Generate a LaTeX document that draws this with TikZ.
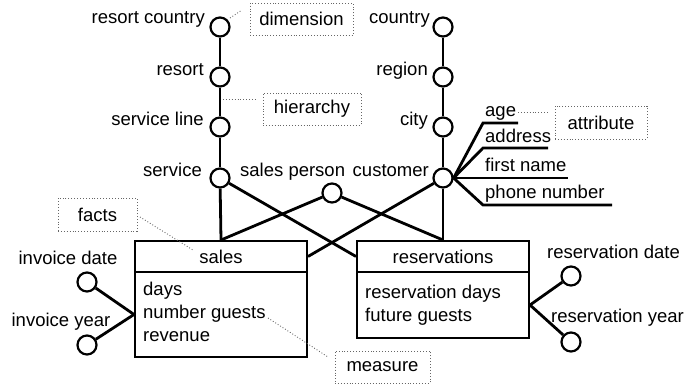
\documentclass[tikz,border=0pt]{standalone}
\usepackage{fontspec}
\setmainfont{Liberation Sans}
\begin{document}
\begin{tikzpicture}[x=1pt,y=-1pt,
  font=\fontsize{18.5}{22}\selectfont,
  dot/.style={circle, draw, line width=2.2pt, minimum size=19pt, inner sep=0pt, fill=white},
  conn/.style={line width=2.8pt},
  lblr/.style={anchor=base east, inner sep=0pt},
  lbll/.style={anchor=base west, inner sep=0pt},
  lblc/.style={anchor=base, inner sep=0pt},
  tbox/.style={draw, line width=2pt, inner sep=0pt, minimum width=172pt},
  note/.style={draw=black!60, dotted, line width=0.9pt, inner sep=0pt},
  lead/.style={draw=black!60, dotted, line width=0.9pt}]
\useasboundingbox (0,0) rectangle (699,387);

% fact tables
\node[tbox, minimum height=31pt] (salesh) at (221,256.5) {sales};
\node[tbox, minimum height=85pt] (salesb) at (221,314.5) {};
\node[tbox, minimum height=31pt] (resh) at (443,256.5) {reservations};
\node[tbox, minimum height=66pt] (resb) at (443,305) {};

\node[lbll] (days) at (143,296) {days};
\node[lbll] (nguests) at (143,319) {number guests};
\node[lbll] (revenue) at (143,342) {revenue};
\node[lbll] (rdays) at (365,299) {reservation days};
\node[lbll] (fguests) at (365,322) {future guests};

% dimension levels
\node[dot] (rc) at (220,27) {};
\node[dot] (rs) at (220,77) {};
\node[dot] (sl) at (220,127) {};
\node[dot] (sv) at (220,178) {};
\node[dot] (co) at (443,27) {};
\node[dot] (rg) at (443,77) {};
\node[dot] (ci) at (443,127) {};
\node[dot] (cu) at (443,178) {};
\node[dot] (sp) at (332,193) {};
\node[dot] (idate) at (87,282) {};
\node[dot] (iyear) at (87,345) {};
\node[dot] (rdate) at (571,276) {};
\node[dot] (ryear) at (571,342) {};

\node[lblr] (lrc) at (205,24) {resort country};
\node[lblr] (lrs) at (204,76) {resort};
\node[lblr] (lsl) at (204,126) {service line};
\node[lblr] (lsv) at (202,177) {service};
\node[lblr] (lco) at (430,24) {country};
\node[lblr] (lrg) at (428,76) {region};
\node[lblr] (lci) at (428,126) {city};
\node[lblr] (lcu) at (429,177) {customer};
\node[lbll] (lsp) at (240,177) {sales person};
\node[lblc] (lidate) at (68,265) {invoice date};
\node[lblc] (liyear) at (61,327) {invoice year};
\node[lbll] (lrdate) at (547,259) {reservation date};
\node[lbll] (lryear) at (551,323) {reservation year};

% attributes
\node[lbll] (lage) at (485,117) {age};
\node[lbll] (laddr) at (485,143) {address};
\node[lbll] (lfirst) at (485,172) {first name};
\node[lbll] (lphone) at (485,199) {phone number};

% hierarchy connectors
\draw[conn] (rc) -- (rs) -- (sl) -- (sv);
\draw[conn] (co) -- (rg) -- (ci) -- (cu);

% dimension to fact connectors
\draw[conn] (sv) -- (salesh.north);
\draw[conn] (sv) -- (resh.west);
\draw[conn] (sp) -- (salesh.north);
\draw[conn] (sp) -- (resh.north);
\draw[conn] (cu) -- (resh.north);
\draw[conn] (cu) -- (salesh.east);
\draw[conn] (idate) -- (salesb.west);
\draw[conn] (iyear) -- (salesb.west);
\draw[conn] (rdate) -- (resb.east);
\draw[conn] (ryear) -- (resb.east);

% attribute connectors
\coordinate (aage1) at (483,123);
\coordinate (aage2) at (518,123);
\coordinate (aaddr1) at (483,148);
\coordinate (aaddr2) at (548,148);
\coordinate (afirst) at (568,178);
\coordinate (aphone1) at (483,205);
\coordinate (aphone2) at (612,205);
\draw[conn] (cu.east) -- (aage1) -- (aage2);
\draw[conn] (cu.east) -- (aaddr1) -- (aaddr2);
\draw[conn] (cu.east) -- (afirst);
\draw[conn] (cu.east) -- (aphone1) -- (aphone2);

% annotations
\node[note, minimum width=103pt, minimum height=32pt] (ndim) at (301.5,19) {dimension};
\node[note, minimum width=98pt, minimum height=32pt] (nhier) at (312,109) {hierarchy};
\node[note, minimum width=92pt, minimum height=33pt] (nattr) at (601,122.5) {attribute};
\node[note, minimum width=79pt, minimum height=33pt] (nfacts) at (97.5,214.5) {facts};
\node[note, minimum width=95pt, minimum height=32pt] (nmeas) at (382.5,367) {measure};

\coordinate (d1) at (230,18);
\coordinate (d2) at (242,10);
\coordinate (h1) at (223,99);
\coordinate (h2) at (256,99);
\coordinate (t1) at (518,112);
\coordinate (t2) at (548,112);
\coordinate (f1) at (140,217);
\coordinate (f2) at (193,250);
\coordinate (m1) at (268,318);
\coordinate (m2) at (328,357);
\draw[lead] (d1) -- (d2);
\draw[lead] (h1) -- (h2);
\draw[lead] (t1) -- (t2);
\draw[lead] (f1) -- (f2);
\draw[lead] (m1) -- (m2);
\end{tikzpicture}
\end{document}
